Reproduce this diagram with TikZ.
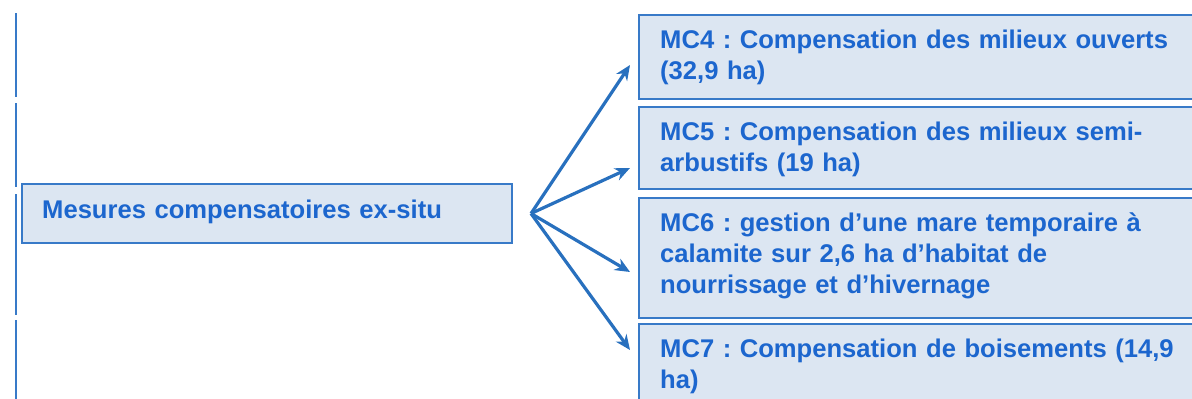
\documentclass[tikz,border=0pt]{standalone}
\usepackage{fontspec}
\setmainfont{Liberation Sans}[WordSpace=1.2]
\frenchspacing
\usetikzlibrary{arrows.meta,calc}
\definecolor{boxline}{RGB}{56,122,200}
\definecolor{boxfill}{RGB}{220,230,242}
\definecolor{boxtext}{RGB}{28,102,206}
\definecolor{arrowblue}{RGB}{40,112,190}
\begin{document}
\begin{tikzpicture}[x=1pt,y=-1pt,
  box/.style={draw=boxline, fill=boxfill, line width=2pt, rectangle,
    anchor=north west, inner sep=0pt},
  boxlabel/.style={anchor=base west, text=boxtext,
    font=\fontsize{25.6}{31}\selectfont\bfseries\frenchspacing,
    text width=#1, align=left, inner sep=0pt},
  link/.style={draw=arrowblue, line width=3.2pt,
    -{Stealth[length=15pt,width=13pt]}},
  sidebar/.style={draw=boxline, line width=2pt}]
\useasboundingbox (0,0) rectangle (1192,399);
\clip (0,0) rectangle (1192,399);

% split bar on the left edge
\draw[sidebar] (16,13) -- (16,97);
\draw[sidebar] (16,103) -- (16,187);
\draw[sidebar] (16,194) -- (16,315);
\draw[sidebar] (16,320) -- (16,402);

% source box
\node[box, minimum width=490pt, minimum height=59pt] (src) at (21,183) {};
\node[boxlabel=460pt] (srct) at ($(src.north west)+(21,35)$)
  {Mesures compensatoires ex-situ};

% measure boxes
\node[box, minimum width=570pt, minimum height=84pt] (mc4) at (638,14) {};
\node[box, minimum width=570pt, minimum height=82pt] (mc5) at (638,106) {};
\node[box, minimum width=570pt, minimum height=120pt] (mc6) at (638,197) {};
\node[box, minimum width=570pt, minimum height=90pt] (mc7) at (638,323) {};

\node[boxlabel=545pt] (mc4t) at ($(mc4.north west)+(22,34)$)
  {MC4 : Compensation des milieux ouverts\\(32,9 ha)};
\node[boxlabel=545pt] (mc5t) at ($(mc5.north west)+(22,34)$)
  {MC5 : Compensation des milieux semi-\\arbustifs (19 ha)};
\node[boxlabel=545pt] (mc6t) at ($(mc6.north west)+(22,34)$)
  {MC6 : gestion d’une mare temporaire à\\calamite sur 2,6 ha d’habitat de\\nourrissage  et d’hivernage};
\node[boxlabel=545pt] (mc7t) at ($(mc7.north west)+(22,34)$)
  {MC7 : Compensation de boisements (14,9\\ha)};

% fan of arrows
\coordinate (fan) at ($(src.east)+(18,0)$);
\draw[link] (fan) -- ($(mc4.north west)+(-8,51)$);
\draw[link] (fan) -- ($(mc5.north west)+(-8,62)$);
\draw[link] (fan) -- ($(mc6.north west)+(-8,75)$);
\draw[link] (fan) -- ($(mc7.north west)+(-8,27)$);
\end{tikzpicture}
\end{document}
